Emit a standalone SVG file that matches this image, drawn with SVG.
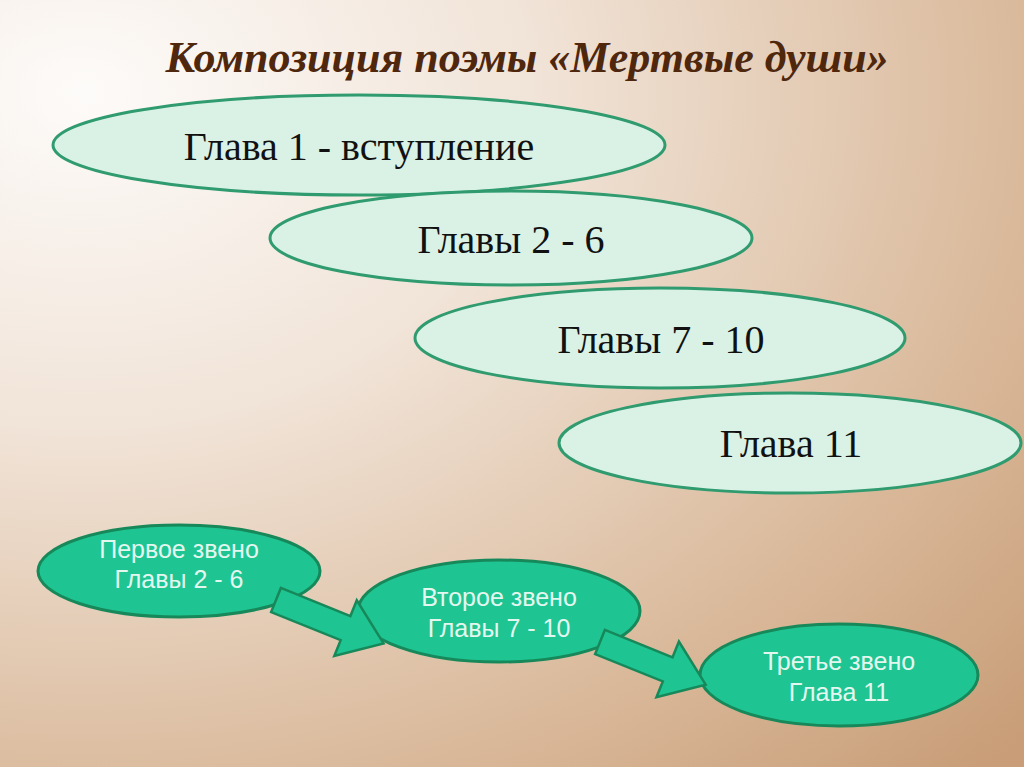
<svg xmlns="http://www.w3.org/2000/svg" width="1024" height="767" viewBox="0 0 1024 767">
  <defs>
    <radialGradient id="bg" cx="0.08" cy="0.12" r="1.25" gradientUnits="objectBoundingBox">
      <stop offset="0" stop-color="#fdfbf9"/>
      <stop offset="0.35" stop-color="#f1e4d8"/>
      <stop offset="0.75" stop-color="#d9b899"/>
      <stop offset="1" stop-color="#c89d77"/>
    </radialGradient>
    <style>
      .light { fill: #daf2e6; stroke: #2f9b6f; stroke-width: 3; }
      .light-t { font-family: "Liberation Serif", "Times New Roman", serif; font-size: 40px; fill: #111; text-anchor: middle; }
      .green { fill: #1ec592; stroke: #17885a; stroke-width: 3; }
      .green-t { font-family: "Liberation Sans", Arial, sans-serif; font-size: 25px; fill: #e4f7ef; text-anchor: middle; }
      .arrow { fill: #1ec592; stroke: #17885a; stroke-width: 2.5; stroke-linejoin: miter; }
      .title { font-family: "Liberation Serif", "Times New Roman", serif; font-size: 44px; font-weight: bold; font-style: italic; fill: #4e270d; text-anchor: middle; }
    </style>
  </defs>
  <rect x="0" y="0" width="1024" height="767" fill="url(#bg)"/>
  <text class="title" x="527" y="72">Композиция поэмы «Мертвые души»</text>

  <g id="node-ch1">
    <ellipse class="light" cx="359" cy="145" rx="306" ry="50"/>
    <text class="light-t" x="359" y="160">Глава 1 - вступление</text>
  </g>
  <g id="node-ch2-6">
    <ellipse class="light" cx="511" cy="238" rx="241" ry="47"/>
    <text class="light-t" x="511" y="253">Главы 2 - 6</text>
  </g>
  <g id="node-ch7-10">
    <ellipse class="light" cx="660" cy="338" rx="245" ry="50"/>
    <text class="light-t" x="661" y="353">Главы 7 - 10</text>
  </g>
  <g id="node-ch11">
    <ellipse class="light" cx="790" cy="443" rx="231" ry="50"/>
    <text class="light-t" x="791" y="457">Глава 11</text>
  </g>

  <g id="node-link1">
    <ellipse class="green" cx="179" cy="571" rx="141" ry="46"/>
    <text class="green-t" x="179" y="558">Первое звено</text>
    <text class="green-t" x="179" y="588">Главы 2 - 6</text>
  </g>
  <g id="node-link2">
    <ellipse class="green" cx="499" cy="611" rx="141" ry="51"/>
    <text class="green-t" x="499" y="606">Второе звено</text>
    <text class="green-t" x="499" y="637">Главы 7 - 10</text>
  </g>
  <g id="node-link3">
    <ellipse class="green" cx="839" cy="675" rx="139" ry="51"/>
    <text class="green-t" x="839" y="670">Третье звено</text>
    <text class="green-t" x="839" y="701">Глава 11</text>
  </g>

  <g id="connectors">
    <polygon class="arrow" transform="translate(276,600) rotate(22)" points="0,-13 75,-13 75,-30 116,0 75,30 75,13 0,13"/>
    <polygon class="arrow" transform="translate(600,642) rotate(22)" points="0,-13 73,-13 73,-30 114,0 73,30 73,13 0,13"/>
  </g>
</svg>
